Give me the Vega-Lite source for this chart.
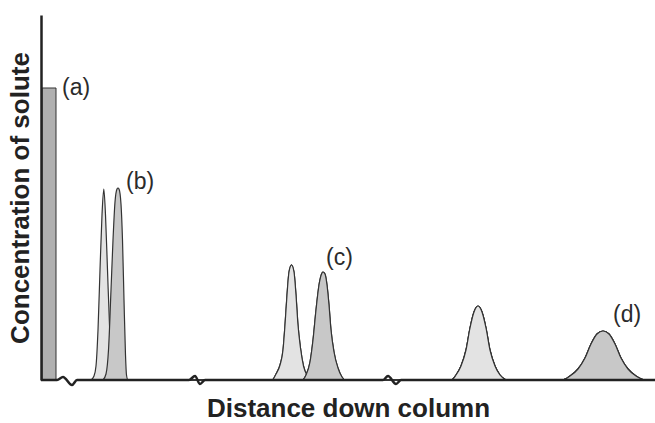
{
  "$schema": "https://vega.github.io/schema/vega-lite/v6.json",
  "width": 614,
  "height": 365,
  "padding": {"left": 41, "top": 15, "right": 0, "bottom": 43},
  "autosize": {"type": "none"},
  "background": "white",
  "config": {"view": {"stroke": null}},
  "datasets": {
    "bar": [{"x": 42, "x2": 56, "h": 292}],
    "light": [
      {"peak": "b", "x": 91, "h": 0}, {"peak": "b", "x": 94, "h": 4}, {"peak": "b", "x": 96, "h": 14}, {"peak": "b", "x": 98, "h": 50},
      {"peak": "b", "x": 100, "h": 110}, {"peak": "b", "x": 102, "h": 165}, {"peak": "b", "x": 103.8, "h": 191}, {"peak": "b", "x": 105.5, "h": 165},
      {"peak": "b", "x": 107.5, "h": 110}, {"peak": "b", "x": 109.5, "h": 55}, {"peak": "b", "x": 111.5, "h": 18}, {"peak": "b", "x": 113.5, "h": 4}, {"peak": "b", "x": 116, "h": 0},
      {"peak": "c", "x": 272, "h": 0}, {"peak": "c", "x": 276, "h": 6}, {"peak": "c", "x": 280, "h": 15}, {"peak": "c", "x": 283, "h": 30},
      {"peak": "c", "x": 285, "h": 55}, {"peak": "c", "x": 287, "h": 85}, {"peak": "c", "x": 289, "h": 108}, {"peak": "c", "x": 291.5, "h": 115},
      {"peak": "c", "x": 294, "h": 108}, {"peak": "c", "x": 296, "h": 85}, {"peak": "c", "x": 298, "h": 55}, {"peak": "c", "x": 300.5, "h": 32},
      {"peak": "c", "x": 303.5, "h": 14}, {"peak": "c", "x": 307.5, "h": 4}, {"peak": "c", "x": 312, "h": 0},
      {"peak": "d", "x": 451, "h": 0}, {"peak": "d", "x": 456, "h": 5}, {"peak": "d", "x": 461, "h": 14}, {"peak": "d", "x": 466, "h": 30},
      {"peak": "d", "x": 470, "h": 52}, {"peak": "d", "x": 474, "h": 68}, {"peak": "d", "x": 478, "h": 74}, {"peak": "d", "x": 482, "h": 68},
      {"peak": "d", "x": 486, "h": 52}, {"peak": "d", "x": 490, "h": 30}, {"peak": "d", "x": 495, "h": 14}, {"peak": "d", "x": 500, "h": 5}, {"peak": "d", "x": 506, "h": 0}
    ],
    "dark": [
      {"peak": "b", "x": 103, "h": 0}, {"peak": "b", "x": 106, "h": 6}, {"peak": "b", "x": 108.5, "h": 30}, {"peak": "b", "x": 111, "h": 90},
      {"peak": "b", "x": 113, "h": 140}, {"peak": "b", "x": 115, "h": 178}, {"peak": "b", "x": 117, "h": 191}, {"peak": "b", "x": 118, "h": 192},
      {"peak": "b", "x": 119, "h": 191}, {"peak": "b", "x": 121, "h": 176}, {"peak": "b", "x": 122.5, "h": 140}, {"peak": "b", "x": 124, "h": 80},
      {"peak": "b", "x": 125.5, "h": 25}, {"peak": "b", "x": 126.5, "h": 5}, {"peak": "b", "x": 128, "h": 0},
      {"peak": "c", "x": 302, "h": 0}, {"peak": "c", "x": 306, "h": 5}, {"peak": "c", "x": 310, "h": 18}, {"peak": "c", "x": 313, "h": 40},
      {"peak": "c", "x": 316, "h": 70}, {"peak": "c", "x": 319, "h": 95}, {"peak": "c", "x": 322, "h": 107}, {"peak": "c", "x": 323, "h": 108},
      {"peak": "c", "x": 325, "h": 106}, {"peak": "c", "x": 327, "h": 95}, {"peak": "c", "x": 329, "h": 75}, {"peak": "c", "x": 331, "h": 50},
      {"peak": "c", "x": 334, "h": 28}, {"peak": "c", "x": 338, "h": 12}, {"peak": "c", "x": 342, "h": 3}, {"peak": "c", "x": 345, "h": 0},
      {"peak": "d", "x": 562, "h": 0}, {"peak": "d", "x": 570, "h": 4}, {"peak": "d", "x": 578, "h": 11}, {"peak": "d", "x": 585, "h": 22},
      {"peak": "d", "x": 591, "h": 36}, {"peak": "d", "x": 597, "h": 46}, {"peak": "d", "x": 603, "h": 49}, {"peak": "d", "x": 609, "h": 46},
      {"peak": "d", "x": 615, "h": 36}, {"peak": "d", "x": 621, "h": 22}, {"peak": "d", "x": 628, "h": 11}, {"peak": "d", "x": 636, "h": 4}, {"peak": "d", "x": 644, "h": 0}
    ],
    "baseline": [
      {"x": 41, "h": 0}, {"x": 57, "h": 0}, {"x": 63, "h": 3}, {"x": 72, "h": -5}, {"x": 77, "h": 0},
      {"x": 189, "h": 0}, {"x": 195, "h": 4}, {"x": 200, "h": -4}, {"x": 205, "h": 0},
      {"x": 383, "h": 0}, {"x": 388, "h": 4}, {"x": 396, "h": -4}, {"x": 401, "h": 0},
      {"x": 655, "h": 0}
    ],
    "labels": [
      {"x": 62, "h": 292, "label": "(a)"},
      {"x": 126, "h": 198, "label": "(b)"},
      {"x": 326, "h": 122, "label": "(c)"},
      {"x": 613, "h": 65, "label": "(d)"}
    ]
  },
  "encoding": {
    "x": {
      "field": "x", "type": "quantitative",
      "scale": {"domain": [41, 655], "nice": false, "zero": false},
      "axis": {"domain": false, "ticks": false, "labels": false, "grid": false,
        "title": "Distance down column", "titleFont": "Liberation Sans", "titleFontSize": 26,
        "titleFontWeight": "bold", "titleColor": "#222222", "titlePadding": 15}
    },
    "y": {
      "field": "h", "type": "quantitative",
      "scale": {"domain": [0, 365], "nice": false, "zero": false},
      "axis": {"domain": true, "domainColor": "#222222", "domainWidth": 2.5, "ticks": false, "labels": false, "grid": false, "zindex": 1,
        "title": "Concentration of solute", "titleFont": "Liberation Sans", "titleFontSize": 26,
        "titleFontWeight": "bold", "titleColor": "#222222", "titlePadding": 8}
    }
  },
  "layer": [
    {
      "data": {"name": "bar"},
      "mark": {"type": "rect", "fill": "#b0b0b0", "stroke": "#333333", "strokeWidth": 1},
      "encoding": {"x2": {"field": "x2"}, "y2": {"datum": 0}}
    },
    {
      "data": {"name": "light"},
      "mark": {"type": "area", "fill": "#e3e3e3", "stroke": "#333333", "strokeWidth": 1.2, "interpolate": "monotone"},
      "encoding": {"detail": {"field": "peak"}}
    },
    {
      "data": {"name": "dark"},
      "mark": {"type": "area", "fill": "#c8c8c8", "stroke": "#333333", "strokeWidth": 1.2, "interpolate": "monotone"},
      "encoding": {"detail": {"field": "peak"}}
    },
    {
      "data": {"name": "baseline"},
      "mark": {"type": "line", "stroke": "#222222", "strokeWidth": 2.5, "interpolate": "monotone"},
      "encoding": {}
    },
    {
      "data": {"name": "labels"},
      "mark": {"type": "text", "align": "left", "baseline": "middle", "font": "Liberation Sans", "fontSize": 23, "color": "#2b2b2b"},
      "encoding": {"text": {"field": "label"}}
    }
  ]
}
